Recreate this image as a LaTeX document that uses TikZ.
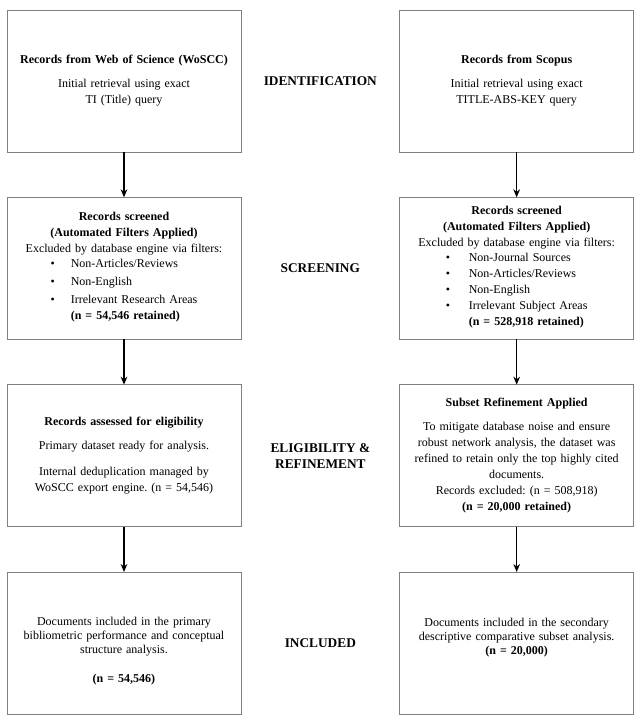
\documentclass[tikz,border=0pt]{standalone}
\usepackage{fontspec}
\setmainfont{Liberation Serif}
\frenchspacing
\usetikzlibrary{
    arrows.meta,
    calc,
    positioning
}
\definecolor{boxgray}{RGB}{128,128,128}
\tikzset{
    every picture/.style = {
        > = Stealth
    },
    box/.style = {
        draw = boxgray,
        line width = 0.75pt,
        text width = 165pt,
        inner xsep = 5.25pt,
        inner ysep = 4pt,
        outer sep = 0pt,
        minimum height = 106.5pt,
        align = center
    },
    tight/.style = {
        font = {\fontsize{9}{10.5}\selectfont}
    },
    stage/.style = {
        font = {\fontsize{10}{12}\selectfont\bfseries},
        align = center
    },
    flow/.style = {
        ->,
        line width = 1.1pt,
        > = {Stealth[length = 6pt, width = 5pt]}
    }
}

\begin{document}
\begin{tikzpicture}[x = 0.75pt, y = -0.75pt, font = {\fontsize{9}{12}\selectfont}]
    \useasboundingbox (0,0) rectangle (642,725);

    % Web of Science column
    \node[box] (wos1) at (124,81) {\textbf{Records from Web of Science (WoSCC)}\\[6pt]
        Initial retrieval using exact\\ TI (Title) query};
    \node[box] (wos2) [below = 34pt of wos1] {\textbf{Records screened}\\
        \textbf{(Automated Filters Applied)}\\
        Excluded by database engine via filters:\\
        \begin{tabular}{@{}l@{\hspace{12pt}}l@{}}
            \textbullet & Non-Articles/Reviews\\[1.5pt]
            \textbullet & Non-English\\[1.5pt]
            \textbullet & Irrelevant Research Areas\\
                        & \textbf{(n = 54,546 retained)}
        \end{tabular}};
    \node[box] (wos3) [below = 34pt of wos2] {\textbf{Records assessed for eligibility}\\[6pt]
        Primary dataset ready for analysis.\\[8pt]
        Internal deduplication managed by\\ WoSCC export engine. (n = 54,546)};
    \node[box, tight] (wos4) [below = 34pt of wos3] {\rule{0pt}{18.5pt}Documents included in the primary\\
        bibliometric performance and conceptual\\ structure analysis.\\[11pt]
        \textbf{(n = 54,546)}};

    % Scopus column
    \node[box] (sco1) [right = 119pt of wos1] {\textbf{Records from Scopus}\\[6pt]
        Initial retrieval using exact\\ TITLE-ABS-KEY query};
    \node[box] (sco2) [below = 34pt of sco1] {\textbf{Records screened}\\
        \textbf{(Automated Filters Applied)}\\
        Excluded by database engine via filters:\\
        \begin{tabular}{@{}l@{\hspace{14pt}}l@{}}
            \textbullet & Non-Journal Sources\\
            \textbullet & Non-Articles/Reviews\\
            \textbullet & Non-English\\
            \textbullet & Irrelevant Subject Areas\\
                        & \textbf{(n = 528,918 retained)}
        \end{tabular}\hspace*{14pt}};
    \node[box] (sco3) [below = 34pt of sco2] {\textbf{Subset Refinement Applied}\\[6pt]
        To mitigate database noise and ensure\\
        robust network analysis, the dataset was\\
        refined to retain only the top highly cited\\
        documents.\\
        Records excluded: (n = 508,918)\\
        \textbf{(n = 20,000 retained)}};
    \node[box, tight] (sco4) [below = 34pt of sco3] {Documents included in the secondary\\
        descriptive comparative subset analysis.\\
        \textbf{(n = 20,000)}\rule[-10pt]{0pt}{10pt}};

    % stage labels
    \node[stage] (ident) at ($(wos1)!0.5!(sco1)$) {IDENTIFICATION};
    \node[stage] (screen) at ($(wos2)!0.5!(sco2)$) {SCREENING};
    \node[stage] (elig) at ($(wos3)!0.5!(sco3)$) {ELIGIBILITY \&\\ REFINEMENT};
    \node[stage] (incl) at ($(wos4)!0.5!(sco4)$) {INCLUDED};

    \draw[flow] (wos1) -- (wos2);
    \draw[flow] (wos2) -- (wos3);
    \draw[flow] (wos3) -- (wos4);
    \draw[flow] (sco1) -- (sco2);
    \draw[flow] (sco2) -- (sco3);
    \draw[flow] (sco3) -- (sco4);
\end{tikzpicture}
\end{document}
